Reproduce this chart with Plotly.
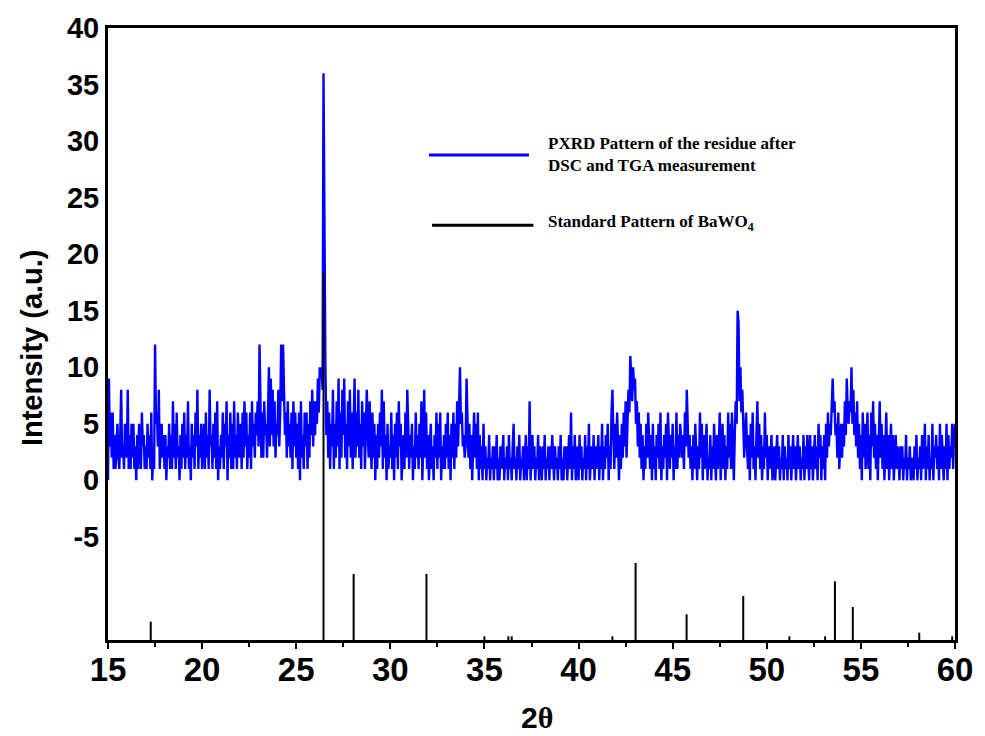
import plotly.graph_objects as go

# Measured PXRD pattern of the residue: 2-theta from 15 to 60 deg, step 0.05 deg.
# Counts are stored one character per point (0-9, a=10 ... z=35, A=36),
# one string per degree.
LEVELS = "0123456789abcdefghijklmnopqrstuvwxyzA"
THETA_START = 15.0
THETA_STEP = 0.05
pxrd_rows = [
    "09362614135214823153",  # 15
    "28141525130415216341",  # 16
    "3152416021c563813524",  # 17
    "14032514172516230415",  # 18
    "26142713052416381425",  # 19
    "13516241834152617031",  # 20
    "42615370426151724163",  # 21
    "25162736142617352647",  # 22
    "3c526274526a39483725",  # 23
    "4836c7c8462735261736",  # 24
    "25160724163615274837",  # 25
    "47596a9a8Aja47261538",  # 26
    "15273916284925173826",  # 27
    "14926382517361584273",  # 28
    "16250415263817240513",  # 29
    "26140526173502416285",  # 30
    "14250316241527038261",  # 31
    "40251304261526031415",  # 32
    "26140526152736a56342",  # 33
    "39625140362516041305",  # 34
    "13021402130314020312",  # 35
    "40213041203512031402",  # 36
    "13024031702413021403",  # 37
    "20314021303142031203",  # 38
    "14020313024160314023",  # 39
    "04130214031502314031",  # 40
    "24031503142503168415",  # 41
    "263041526372586b97a8",  # 42
    "95736251403152631405",  # 43
    "13042516031425063142",  # 44
    "50316142532416385241",  # 45
    "30415203162504135021",  # 46
    "40315204136025140316",  # 47
    "251630475fe7a6852463",  # 48
    "14052613047251403162",  # 49
    "40312401302413021403",  # 50
    "12041302413024130214",  # 51
    "03142041302413052403",  # 52
    "14052635489674526135",  # 53
    "2537496576a584637251",  # 54
    "40625136140637251403",  # 55
    "72514036140351402413",  # 56
    "20313021402130120314",  # 57
    "02130412503140215032",  # 58
    "41305142031504132514",  # 59
    "5",                     # 60
]
pxrd_counts = [LEVELS.index(c) for c in "".join(pxrd_rows)]
pxrd_2theta = [round(THETA_START + i * THETA_STEP, 2) for i in range(len(pxrd_counts))]

# Reference stick pattern of BaWO4 (relative intensity, %)
std_2theta = [17.27, 26.45, 28.05, 31.92, 35.0, 36.27, 36.45, 41.8, 43.03,
              45.74, 48.75, 51.2, 53.1, 53.62, 54.57, 58.1, 59.85]
std_rel_int = [5, 100, 18, 18, 1, 1, 1, 1, 21,
               7, 12, 1, 1, 16, 9, 2, 1]

x_ticks = [15, 20, 25, 30, 35, 40, 45, 50, 55, 60]
y_ticks = [-5, 0, 5, 10, 15, 20, 25, 30, 35, 40]

stick_x, stick_y = [], []
for t, h in zip(std_2theta, std_rel_int):
    stick_x += [t, t, None]
    stick_y += [0, h, None]

fig = go.Figure()
fig.add_trace(go.Scatter(
    x=pxrd_2theta, y=pxrd_counts, mode="lines",
    line=dict(color="#0000ff", width=2.4),
    showlegend=False, yaxis="y",
))
fig.add_trace(go.Scatter(
    x=stick_x, y=stick_y, mode="lines",
    line=dict(color="black", width=2),
    showlegend=False, yaxis="y2", connectgaps=False,
))

axis_font = dict(family="Liberation Sans", weight="bold", color="black")
legend_font = dict(family="Liberation Serif", weight="bold", color="black", size=17)

fig.update_layout(
    width=985, height=736,
    margin=dict(l=108, r=25, t=23, b=96),
    paper_bgcolor="white", plot_bgcolor="white",
    xaxis=dict(
        range=[15, 60], tickvals=x_ticks, ticktext=[str(v) for v in x_ticks],
        showgrid=False, zeroline=False,
        showline=True, linecolor="black", linewidth=3, mirror=True,
        ticks="outside", ticklen=6, tickwidth=2, tickcolor="black",
        minor=dict(dtick=2.5, tick0=15, ticks="outside", ticklen=4,
                   tickwidth=2, tickcolor="black", showgrid=False),
        tickfont=dict(size=33, **axis_font),
        ticklabelstandoff=-8,
    ),
    yaxis=dict(
        range=[-14.12, 40], tickvals=y_ticks, ticktext=[str(v) for v in y_ticks],
        showgrid=False, zeroline=False,
        showline=True, linecolor="black", linewidth=3, mirror=True,
        ticks="", ticklabelstandoff=0,
        tickfont=dict(size=29, **axis_font),
    ),
    yaxis2=dict(range=[0, 166.8], overlaying="y", visible=False),
    shapes=[
        dict(type="line", xref="paper", yref="paper",
             x0=0.379, x1=0.497, y0=0.7925, y1=0.7925,
             line=dict(color="#0000ff", width=3)),
        dict(type="line", xref="paper", yref="paper",
             x0=0.3826, x1=0.5023, y0=0.6775, y1=0.6775,
             line=dict(color="black", width=3)),
    ],
    annotations=[
        dict(text="PXRD Pattern of the residue after<br>DSC and TGA measurement",
             xref="paper", yref="paper", x=0.5176, y=0.7925,
             xanchor="left", yanchor="middle", align="left", showarrow=False,
             font=legend_font),
        dict(text="Standard Pattern of BaWO<sub>4</sub>",
             xref="paper", yref="paper", x=0.5176, y=0.6810,
             xanchor="left", yanchor="middle", align="left", showarrow=False,
             font=legend_font),
        dict(text="2<span style='font-family:Liberation Serif'>θ</span>",
             xref="paper", yref="paper", x=0.507, y=-0.127,
             xanchor="center", yanchor="middle", showarrow=False,
             font=dict(size=30, **axis_font)),
        dict(text="Intensity (a.u.)", textangle=-90,
             xref="paper", yref="paper", x=-0.089, y=0.478,
             xanchor="center", yanchor="middle", showarrow=False,
             font=dict(size=29, **axis_font)),
    ],
)

fig.write_html("out.html")
